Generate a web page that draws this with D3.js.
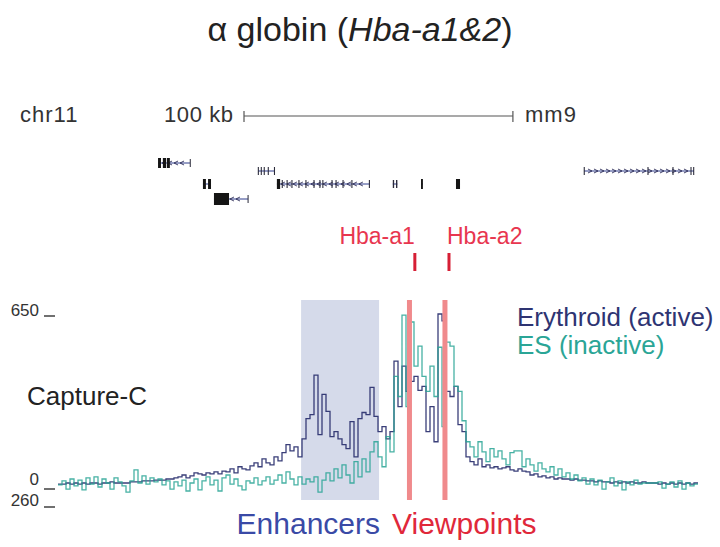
<!DOCTYPE html>
<html><head><meta charset="utf-8">
<script src="https://cdn.jsdelivr.net/npm/d3@7/dist/d3.min.js"></script>
<style>
html,body{margin:0;padding:0;background:#fff;}
svg{display:block;font-family:"Liberation Sans",Arial,Helvetica,sans-serif;}
</style></head>
<body><svg id="c" width="720" height="547"></svg>
<script>
// ---------- data ----------
const regionKb = [0, 238];            // plotted window, kb
const scaleBarKb = 100;               // "100 kb"
const binCount = 160;
// Capture-C signal (per bin), erythroid (active)
const erythroid = [
 11,11,15,11,15,11,15,11,15,15,
 11,15,15,19,15,15,15,15,19,19,
 19,23,23,23,26,26,26,30,30,34,
 38,45,34,42,53,49,45,53,49,57,
 49,60,57,68,53,76,68,64,79,91,
 76,106,91,83,113,98,129,159,136,151,
 113,181,257,272,420,197,348,284,189,208,
 181,159,144,246,113,257,280,272,374,265,
 208,227,181,208,473,302,454,359,397,416,
 363,378,208,302,170,650,624,359,340,378,
 234,208,113,95,83,106,76,83,72,76,
 68,72,76,64,60,68,60,57,45,49,
 38,42,34,38,30,34,30,30,26,30,
 26,26,23,23,19,23,19,19,15,19,
 15,19,15,19,15,15,19,15,15,15,
 11,15,11,15,11,15,11,15,11,15];
// ES (inactive)
const es = [
 8,23,-8,30,4,26,-11,34,11,38,
 0,30,15,-8,34,19,4,-19,23,64,
 15,42,11,34,19,30,8,23,-8,19,
 4,26,-15,15,30,-11,23,38,8,26,
 -15,34,45,11,30,4,-11,23,15,34,
 8,23,38,11,26,45,15,57,30,8,
 38,11,30,19,38,-19,26,53,23,68,
 34,83,45,15,95,38,106,57,132,170,
 113,76,189,132,416,340,646,302,620,454,
 529,416,359,454,340,525,227,544,529,378,
 359,249,170,151,113,170,132,95,144,113,
 136,106,83,129,136,136,76,106,83,60,
 91,68,57,76,45,68,38,53,30,45,
 23,34,11,30,8,26,-8,19,34,4,
 23,-11,19,8,26,11,15,15,15,15,
 19,-4,11,19,0,23,-8,15,4,11];
const yTickValues = [650, 0];
const yTickLabels = ["650", "0"];
const lowerTrackLabel = "260";
const enhancerKb = [90.4, 119.4];
const viewpointKb = [130.7, 143.9];
const seriesNames = ["Erythroid (active)", "ES (inactive)"];

// gene models (kb)
const geneStart  = [37.2, 53.9, 58.0, 74.4, 81.4, 124.5, 135.0, 148.0, 195.6];
const geneEnd    = [49.1, 56.9, 70.7, 80.7, 116.0, 126.2, 135.7, 149.5, 236.5];
const geneRow    = [0, 2, 3, 1, 2, 2, 2, 2, 1];
const geneStrand = [-1, 0, -1, 0, -1, 0, 0, 0, 1];
const geneExons  = [
 [[37.2,38.3],[39.0,40.2],[40.5,41.6],[49.0,49.3]],
 [[53.9,55.0],[55.8,56.9]],
 [[58.0,63.6],[70.5,70.8]],
 [[74.3,74.7],[75.4,75.8],[76.5,76.9],[78.0,78.4],[80.3,80.7]],
 [[81.4,82.6],[83.2,83.6],[85.0,85.4],[86.8,87.2],[89.4,89.8],[92.0,92.4],[95.0,95.4],[97.2,97.6],[98.3,98.7],[101.7,102.1],[103.2,103.6],[105.8,106.2],[109.1,109.5],[115.6,116.0]],
 [[124.5,125.0],[125.7,126.2]],
 [[135.0,135.7]],
 [[148.0,149.5]],
 [[195.5,195.9],[219.2,219.6],[228.5,228.9],[235.2,235.6],[236.2,236.6]]
];
const geneExonTall = [[true,true,true,false],[true,true],[true,false],[false,false,false,false,false],
 [true,false,false,false,false,false,false,false,false,false,false,false,false,false],[false,false],[true],[true],[false,false,false,false,false]];
const hbaNames = ["Hba-a1", "Hba-a2"];
const hbaKb = [132.7, 145.4];

// ---------- drawing ----------
const svg = d3.select("#c");
const x = d3.scaleLinear().domain(regionKb).range([58, 698]);
const y = d3.scaleLinear().domain([0, 650]).range([487, 314]);
const rowY = d3.scaleOrdinal().domain([0,1,2,3]).range([163, 171, 184, 199]);
const navy = "#252a6a", teal = "#27a394", red = "#e8364f";

// title
const t = svg.append("text").attr("x", 360).attr("y", 41).attr("text-anchor", "middle")
  .attr("font-size", 34).attr("fill", "#222");
t.append("tspan").text("\u03b1 globin (");
t.append("tspan").attr("font-style", "italic").text("Hba-a1&2");
t.append("tspan").text(")");

// header row
const hdr = {size: 22, fill: "#333"};
svg.append("text").attr("x", 20).attr("y", 122).attr("font-size", hdr.size).attr("letter-spacing", 1).attr("fill", hdr.fill).text("chr11");
svg.append("text").attr("x", 164).attr("y", 122).attr("font-size", hdr.size).attr("letter-spacing", 0.6).attr("fill", hdr.fill).text(scaleBarKb + " kb");
const sb0 = 244, sb1 = sb0 + (x(scaleBarKb) - x(0));
svg.append("line").attr("x1", sb0).attr("x2", sb1).attr("y1", 116).attr("y2", 116).attr("stroke", "#555").attr("stroke-width", 1.2);
[sb0, sb1].forEach(p => svg.append("line").attr("x1", p).attr("x2", p).attr("y1", 111).attr("y2", 122).attr("stroke", "#555").attr("stroke-width", 1.2));
svg.append("text").attr("x", 525).attr("y", 122).attr("font-size", hdr.size).attr("letter-spacing", 1).attr("fill", hdr.fill).text("mm9");

// genes
const gg = svg.append("g");
geneStart.forEach((s, i) => {
  const yy = rowY(geneRow[i]);
  gg.append("line").attr("x1", x(s)).attr("x2", x(geneEnd[i])).attr("y1", yy).attr("y2", yy)
    .attr("stroke", "#2f3c8c").attr("stroke-width", 1);
  if (geneStrand[i] !== 0) {
    const w = x(geneEnd[i]) - x(s);
    const n = Math.floor(w / 6);
    for (let k = 1; k < n; k++) {
      const px = x(s) + k * 6, d = geneStrand[i] * 2;
      gg.append("path").attr("d", `M${px - d},${yy - 2}L${px + d},${yy}L${px - d},${yy + 2}`)
        .attr("fill", "none").attr("stroke", "#2a2a55").attr("stroke-width", 0.9);
    }
  }
  geneExons[i].forEach((e, j) => {
    const tall = geneExonTall[i][j];
    const h = (i === 2 && j === 0) ? 12 : (tall ? 10 : 8);
    gg.append("rect").attr("x", x(e[0])).attr("y", yy - h / 2)
      .attr("width", Math.max(1, x(e[1]) - x(e[0]))).attr("height", h)
      .attr("fill", tall ? "#151515" : "#2a2a3a");
  });
});

// Hba genes
hbaNames.forEach((n, i) => {
  svg.append("text").attr("x", x(hbaKb[i]) + (i === 0 ? 0 : -2)).attr("y", 244).attr("text-anchor", i === 0 ? "end" : "start")
    .attr("font-size", 23).attr("fill", red).text(n);
  svg.append("rect").attr("x", x(hbaKb[i]) - 1.5).attr("y", 253).attr("width", 3).attr("height", 18).attr("fill", "#d61f35");
});

// enhancer shading
svg.append("rect").attr("x", x(enhancerKb[0])).attr("y", 300)
  .attr("width", x(enhancerKb[1]) - x(enhancerKb[0])).attr("height", 200).attr("fill", "#d5daea");

// y tick labels
yTickValues.forEach((v, i) => {
  svg.append("text").attr("x", 39).attr("y", y(v) + (v === 0 ? -2 : 2)).attr("text-anchor", "end")
    .attr("font-size", 17).attr("fill", "#333").text(yTickLabels[i]);
  svg.append("line").attr("x1", 44).attr("x2", 55).attr("y1", y(v) + 2).attr("y2", y(v) + 2).attr("stroke", "#333").attr("stroke-width", 1.4);
});
svg.append("text").attr("x", 39).attr("y", 506).attr("text-anchor", "end").attr("font-size", 17).attr("fill", "#333").text(lowerTrackLabel);
svg.append("line").attr("x1", 44).attr("x2", 55).attr("y1", 507).attr("y2", 507).attr("stroke", "#333").attr("stroke-width", 1.4);

svg.append("text").attr("x", 27).attr("y", 405).attr("font-size", 26).attr("fill", "#222").text("Capture-C");

// signals
const binKb = (regionKb[1] - regionKb[0]) / binCount;
const toPts = arr => { const p = arr.map((v, i) => [regionKb[0] + i * binKb, v]); p.push([regionKb[1], arr[arr.length - 1]]); return p; };
const line = d3.line().x(d => x(d[0])).y(d => y(d[1])).curve(d3.curveStepAfter);
svg.append("path").attr("d", line(toPts(erythroid))).attr("fill", "none").attr("stroke", navy).attr("stroke-width", 1.3).attr("stroke-opacity", 0.9);
svg.append("path").attr("d", line(toPts(es))).attr("fill", "none").attr("stroke", teal).attr("stroke-width", 1.3).attr("stroke-opacity", 0.85);

// viewpoints
viewpointKb.forEach(v => svg.append("rect").attr("x", x(v) - 2.5).attr("y", 300).attr("width", 5).attr("height", 200).attr("fill", "#f08a8c"));

// legend
svg.append("text").attr("x", 517).attr("y", 326).attr("font-size", 26).attr("fill", "#2e3472").text(seriesNames[0]);
svg.append("text").attr("x", 517).attr("y", 354).attr("font-size", 26).attr("fill", "#2aa596").text(seriesNames[1]);

// bottom labels
svg.append("text").attr("x", 380).attr("y", 534).attr("text-anchor", "end").attr("font-size", 30).attr("fill", "#3a4aa6").text("Enhancers");
svg.append("text").attr("x", 392).attr("y", 534).attr("font-size", 30).attr("fill", "#e0283a").text("Viewpoints");
</script></body></html>
